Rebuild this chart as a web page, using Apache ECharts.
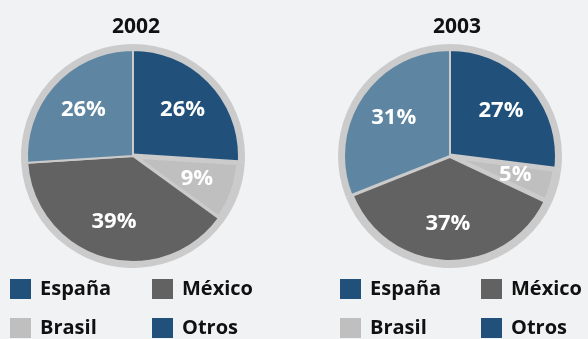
<!DOCTYPE html>
<html>
<head>
<meta charset="utf-8">
<script src="https://cdn.jsdelivr.net/npm/echarts@6/dist/echarts.min.js"></script>
<style>
  html, body { margin: 0; padding: 0; background: #f1f2f4; }
  #chart { width: 588px; height: 339px; }
</style>
</head>
<body>
<div id="chart"></div>
<script>
// Geographic breakdown, two years side by side
const years = ['2002', '2003'];
const regions = ['España', 'Brasil', 'México', 'Otros'];
const share2002 = [26, 9, 39, 26];
const share2003 = [27, 5, 37, 31];
const shares = [share2002, share2003];

const sliceColors = ['#21517a', '#bfbfbf', '#626262', '#5e86a2'];
const borderWidths = [[2, 5, 2, 2], [2, 5, 4, 2]];
// legend swatches (Otros keyed in the dark blue)
const legendColors = { 'España': '#21517a', 'México': '#626262', 'Brasil': '#bfbfbf', 'Otros': '#21517a' };
// legend grid: [name, column, row]
const legendItems = [['España', 0, 0], ['México', 1, 0], ['Brasil', 0, 1], ['Otros', 1, 1]];

const centers = [[133, 156], [450, 156]];
const legendLefts = [[10, 152], [340, 481]];
const legendTops = [279, 318];
const titleCenters = [131, 452];

const font = '"Open Sans", "Noto Sans", sans-serif';
const series = [];
const legends = [];
const titles = [];

years.forEach((yr, k) => {
  const data = regions.map((name, i) => ({
    name,
    value: shares[k][i],
    itemStyle: { color: sliceColors[i], borderColor: '#cbcbcb', borderWidth: borderWidths[k][i] }
  }));
  // grey rim behind the pie
  series.push({
    type: 'pie', silent: true, z: 1, animation: false,
    center: centers[k], radius: 112, startAngle: 90,
    label: { show: false }, labelLine: { show: false },
    itemStyle: { color: '#cbcbcb', borderWidth: 0 },
    data: regions.map((name, i) => ({ name, value: shares[k][i] }))
  });
  // slices
  series.push({
    type: 'pie', silent: true, z: 2, animation: false,
    center: centers[k], radius: 106, startAngle: 90,
    label: { show: false }, labelLine: { show: false },
    data
  });
  // percentage labels on a thinner ring so they sit further out
  series.push({
    type: 'pie', silent: true, z: 3, animation: false,
    center: centers[k], radius: [24, 106], startAngle: 90,
    itemStyle: { color: 'transparent', borderWidth: 0 },
    labelLine: { show: false },
    label: {
      show: true, position: 'inside', formatter: '{c}%',
      color: '#ffffff', fontFamily: font, fontWeight: 'bold', fontSize: 22
    },
    data: regions.map((name, i) => ({ name, value: shares[k][i] }))
  });
  titles.push({
    text: yr, left: titleCenters[k], top: 12, textAlign: 'center',
    textStyle: { fontFamily: font, fontWeight: 'bold', fontSize: 21, color: '#111111' }
  });
  legendItems.forEach(([name, col, row]) => {
    legends.push({
      left: legendLefts[k][col], top: legendTops[row], padding: 0,
      itemWidth: 21, itemHeight: 20, icon: 'rect',
      selectedMode: false,
      textStyle: { fontFamily: font, fontWeight: 'bold', fontSize: 20, color: '#111111', padding: [0, 0, 0, 4] },
      data: [{ name, itemStyle: { color: legendColors[name], borderWidth: 0 } }]
    });
  });
});

const chart = echarts.init(document.getElementById('chart'));
chart.setOption({
  backgroundColor: '#f1f2f4',
  animation: false,
  title: titles,
  legend: legends,
  series
});
</script>
</body>
</html>
